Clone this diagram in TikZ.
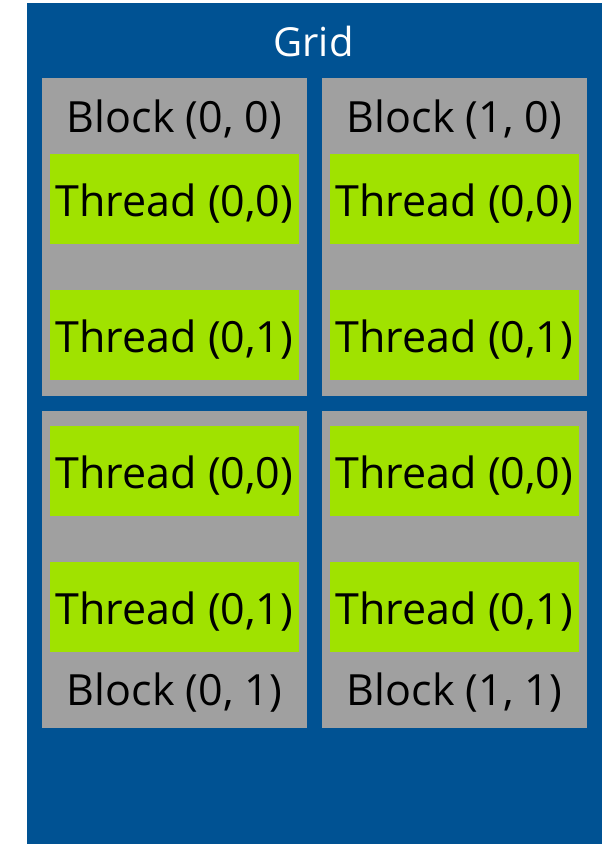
\documentclass[tikz,border=0pt]{standalone}
\usepackage{fontspec}
\setmainfont{Open Sans}
\definecolor{gridblue}{RGB}{0,82,147}
\definecolor{blockgray}{RGB}{160,160,160}
\definecolor{threadgreen}{RGB}{160,226,0}
\begin{document}
\begin{tikzpicture}[x=1pt,y=-1pt,
  threadbox/.style={fill=threadgreen,draw=none,minimum width=249pt,minimum height=90pt,inner sep=0pt},
  lbl/.style={font=\fontsize{43}{43}\selectfont,text=black,inner sep=0pt,anchor=base},
  glbl/.style={font=\fontsize{40}{40}\selectfont,text=white,inner sep=0pt,anchor=base}]
\useasboundingbox (0,0) rectangle (611,844);
\fill[gridblue] (27,3) rectangle (602,844);
\node[glbl] (grid) at (313.5,56.5) {Grid};
% blocks
\fill[blockgray] (42,78) rectangle (307,396);
\fill[blockgray] (322,78) rectangle (587,396);
\fill[blockgray] (42,411) rectangle (307,728);
\fill[blockgray] (322,411) rectangle (587,728);
\node[lbl] (b00) at (174.5,132.7) {Block (0, 0)};
\node[lbl] (b10) at (454.5,132.7) {Block (1, 0)};
\node[lbl] (b01) at (174.5,705.7) {Block (0, 1)};
\node[lbl] (b11) at (454.5,705.7) {Block (1, 1)};
% threads
\node[threadbox] (t00a) at (174.5,199) {};
\node[threadbox] (t00b) at (174.5,335) {};
\node[threadbox] (t10a) at (454.5,199) {};
\node[threadbox] (t10b) at (454.5,335) {};
\node[threadbox] (t01a) at (174.5,471) {};
\node[threadbox] (t01b) at (174.5,607) {};
\node[threadbox] (t11a) at (454.5,471) {};
\node[threadbox] (t11b) at (454.5,607) {};
\foreach \n/\t in {t00a/{Thread (0,0)},t00b/{Thread (0,1)},t10a/{Thread (0,0)},t10b/{Thread (0,1)},t01a/{Thread (0,0)},t01b/{Thread (0,1)},t11a/{Thread (0,0)},t11b/{Thread (0,1)}}
  \node[lbl] (\n-text) at ([yshift=-17.7pt]\n.center) {\t};
\end{tikzpicture}
\end{document}
